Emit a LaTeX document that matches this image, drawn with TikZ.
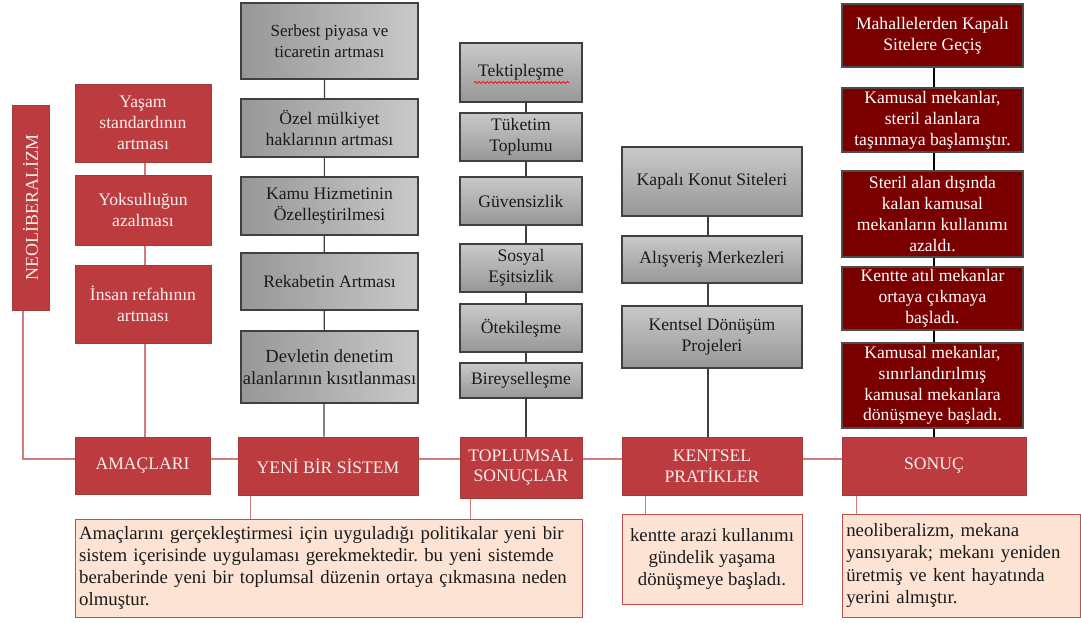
\documentclass[tikz,border=0pt]{standalone}
\usepackage{fontspec}
\setmainfont{Liberation Serif}
\usepackage{graphicx}
\usepackage{tikz}
\usetikzlibrary{calc,backgrounds,decorations.pathmorphing}
\frenchspacing
\definecolor{boxred}{HTML}{BC3B3E}
\definecolor{boxredline}{HTML}{A5383A}
\definecolor{linkred}{HTML}{D37B7B}
\definecolor{deepred}{HTML}{7A0000}
\definecolor{notefill}{HTML}{FDE3D4}
\definecolor{noteline}{HTML}{C0504D}
\definecolor{graylight}{HTML}{C9C9C9}
\definecolor{graydark}{HTML}{979797}
\definecolor{ink}{HTML}{1A1A1A}
\definecolor{linkgray}{HTML}{404040}
\definecolor{boxtext}{HTML}{FBEEEE}
\tikzset{
  redbox/.style={draw=boxredline,fill=boxred,line width=0.6pt,
                 align=center,text=boxtext,inner sep=1pt,
                 font=\fontsize{13.2}{15.6}\selectfont},
  graybox/.style={draw=linkgray,left color=graydark,right color=graylight,
                  line width=0.8pt,align=center,text=ink,inner sep=1pt,
                  font=\fontsize{13.2}{15.8}\selectfont},
  grayboxv/.style={draw=linkgray,top color=graylight,bottom color=graydark,
                   line width=0.8pt,align=center,text=ink,inner sep=1pt,
                   font=\fontsize{13.2}{15.8}\selectfont},
  darkbox/.style={draw=gray!60!black,fill=deepred,line width=0.8pt,
                  align=center,text=white,inner sep=0pt,
                  font=\fontsize{13.2}{15.6}\selectfont},
  notebox/.style={draw=noteline,fill=notefill,line width=0.7pt,
                  text=ink,inner sep=3pt,
                  font=\fontsize{14.1}{16.6}\selectfont},
  redlink/.style={draw=linkred,line width=0.9pt},
  graylink/.style={draw=linkgray,line width=0.9pt},
  darklink/.style={draw=black,line width=0.8pt},
  sz/.style 2 args={minimum width=#1*0.75pt,minimum height=#2*0.75pt}
}

\begin{document}
\begin{tikzpicture}[x=0.75pt,y=-0.75pt]
  \useasboundingbox (0,0) rectangle (1081,623);

  % amaclar
  \node[redbox,sz={37}{205},font=\fontsize{13.5}{15.6}\selectfont] (neo) at (30.5,207.5) {\rotatebox{90}{NEOLİBERALİZM}};
  \node[redbox,sz={136}{78}] (yasam) at (143,123) {Yaşam\\standardının\\artması};
  \node[redbox,sz={136}{70}] (yoksul) at (143,210) {Yoksulluğun\\azalması};
  \node[redbox,sz={136}{78}] (refah) at (143,304) {İnsan refahının\\artması};
  \node[redbox,sz={135}{57}] (amac) at (142.5,466) {AMAÇLARI};

  % yeni sistem
  \node[graybox,sz={177}{76},font=\fontsize{12.7}{16}\selectfont] (piyasa) at (329.5,41) {Serbest piyasa ve\\ticaretin artması};
  \node[graybox,sz={177}{58}] (mulk) at (329.5,128) {Özel mülkiyet\\haklarının artması};
  \node[graybox,sz={177}{58}] (hizmet) at (329.5,206) {Kamu Hizmetinin\\Özelleştirilmesi};
  \node[graybox,sz={177}{57}] (rekabet) at (329.5,281.5) {Rekabetin Artması};
  \node[graybox,sz={177}{72},font=\fontsize{13.9}{16.4}\selectfont] (denetim) at (329.5,367) {Devletin denetim\\alanlarının kısıtlanması};
  \node[redbox,sz={180}{58}] (sistem) at (328,466) {YENİ BİR SİSTEM};

  % toplumsal sonuclar
  \node[grayboxv,sz={122}{59}] (tektip) at (521,72.5) {Tektipleşme};
  \node[grayboxv,sz={122}{48}] (tuketim) at (521,137) {Tüketim\\Toplumu};
  \node[grayboxv,sz={122}{48}] (guven) at (521,201) {Güvensizlik};
  \node[grayboxv,sz={122}{48}] (esitsiz) at (521,268) {Sosyal\\Eşitsizlik};
  \node[grayboxv,sz={122}{48}] (oteki) at (521,328) {Ötekileşme};
  \node[grayboxv,sz={122}{35}] (birey) at (521,380.5) {Bireyselleşme};
  \node[redbox,sz={122}{61}] (toplum) at (521,467.5) {TOPLUMSAL\\SONUÇLAR};
  \draw[red!85!black,line width=0.5pt,decorate,
        decoration={snake,amplitude=0.7pt,segment length=3pt}]
    ($(tektip.center)+(-47,10)$) -- ($(tektip.center)+(48,10)$);

  % kentsel pratikler
  \node[grayboxv,sz={180}{69}] (konut) at (712,181.5) {Kapalı Konut Siteleri};
  \node[grayboxv,sz={180}{47}] (avm) at (712,259.5) {Alışveriş Merkezleri};
  \node[grayboxv,sz={180}{62}] (donusum) at (712,337) {Kentsel Dönüşüm\\Projeleri};
  \node[redbox,sz={180}{58}] (kentsel) at (712,466) {KENTSEL\\PRATİKLER};

  % sonuc
  \node[darkbox,sz={181}{63}] (mahalle) at (932.5,35.5) {Mahallelerden Kapalı\\Sitelere Geçiş};
  \node[darkbox,sz={181}{64}] (kamusal) at (932.5,120) {Kamusal mekanlar,\\steril alanlara\\taşınmaya başlamıştır.};
  \node[darkbox,sz={181}{86}] (steril) at (932.5,214) {Steril alan dışında\\kalan kamusal\\mekanların kullanımı\\azaldı.};
  \node[darkbox,sz={181}{63}] (atil) at (932.5,298.5) {Kentte atıl mekanlar\\ortaya çıkmaya\\başladı.};
  \node[darkbox,sz={181}{85}] (sinirli) at (932.5,385.5) {Kamusal mekanlar,\\sınırlandırılmış\\kamusal mekanlara\\dönüşmeye başladı.};
  \node[redbox,sz={184}{58}] (sonuc) at (934,466) {SONUÇ};

  % notlar
  \node[notebox,sz={507}{98},text width=374pt,align=left] (sistemnot) at (328.5,568)
    {Amaçlarını gerçekleştirmesi için uyguladığı politikalar yeni bir\\
     sistem içerisinde uygulaması gerekmektedir. bu yeni sistemde\\
     beraberinde yeni bir toplumsal düzenin ortaya çıkmasına neden\\
     olmuştur.};
  \node[notebox,sz={180}{90},align=center] (kentnot) at (712,559)
    {kentte arazi kullanımı\\gündelik yaşama\\dönüşmeye başladı.};
  \node[notebox,sz={238}{103},text width=172pt,align=left] (sonucnot) at (961,565.5)
    {neoliberalizm, mekana\\yansıyarak; mekanı yeniden\\üretmiş ve kent hayatında\\yerini almıştır.};

  \begin{scope}[on background layer]
    \fill[white] (0,0) rectangle (1081,623);
    \draw[redlink] ($(neo.south)+(-7.5,0)$) |- ($(amac.west)+(0,-7)$);
    \draw[redlink] ($(amac.east)+(0,-7)$) -- ($(sonuc.west)+(0,-7)$);
    \draw[redlink] ($(yasam.south)+(2,0)$) -- ($(amac.north)+(2.5,0)$);
    \draw[graylink] ($(piyasa.south)+(-5,0)$) -- ($(sistem.north)+(-4,0)$);
    \draw[graylink] ($(tektip.south)+(5,0)$) -- ($(toplum.north)+(5,0)$);
    \draw[graylink] ($(konut.south)+(-4,0)$) -- ($(kentsel.north)+(-4,0)$);
    \draw[darklink] ($(mahalle.south)+(1.5,0)$) -- (sonuc.north);
    \draw[redlink] (sistem.south west) ++(13,0) coordinate (s1) -- (s1 |- sistemnot.north);
    \draw[redlink] (toplum.south west) ++(11,0) coordinate (s2) -- (s2 |- sistemnot.north);
    \draw[redlink] (kentsel.south west) ++(24,0) coordinate (s3) -- (s3 |- kentnot.north);
    \draw[redlink] (sonuc.south west) ++(15,0) coordinate (s4) -- (s4 |- sonucnot.north);
  \end{scope}
\end{tikzpicture}
\end{document}
